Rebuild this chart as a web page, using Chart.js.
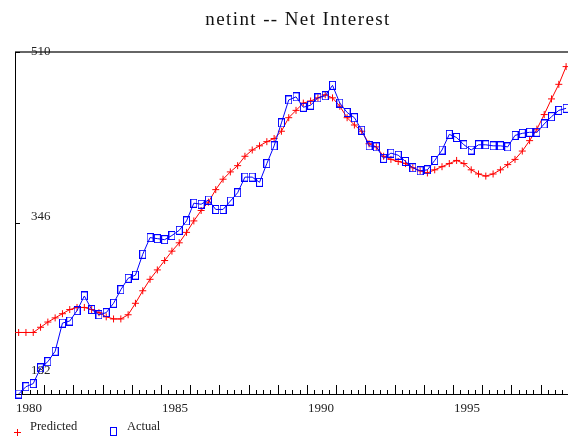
<!DOCTYPE html>
<html>
<head>
<meta charset="utf-8">
<script src="https://cdn.jsdelivr.net/npm/chart.js@4"></script>
<style>
  html, body { margin: 0; padding: 0; background: #fff; }
</style>
</head>
<body>
<canvas id="chart" width="568" height="436"></canvas>
<script>
// quarterly data, 1980Q1 .. 1998Q4
const startYear = 1980;
const predicted = [
  241, 241, 241, 246, 251, 255, 259, 263, 265, 265,
  263, 260, 256, 254, 254, 258, 269, 281, 292, 301,
  310, 319, 327, 337, 348, 358, 366, 378, 388, 395,
  401, 410, 416, 420, 424, 427, 434, 447, 454, 461,
  463, 466, 469, 466, 458, 447, 440, 434, 422, 419,
  410, 407, 405, 403, 399, 396, 394, 397, 400, 403,
  406, 403, 397, 393, 391, 393, 397, 402, 407, 415,
  425, 436, 450, 465, 479, 496
];
const actual = [
  182, 189, 192, 207, 213, 223, 250, 252, 262, 276,
  263, 258, 260, 269, 282, 293, 296, 316, 332, 331,
  330, 334, 339, 348, 365, 364, 368, 359, 359, 367,
  375, 390, 390, 385, 403, 420, 442, 464, 467, 457,
  459, 466, 468, 478, 461, 452, 447, 435, 420, 419,
  408, 413, 411, 405, 399, 396, 397, 406, 416, 431,
  428, 421, 416, 421, 421, 420, 420, 419, 430, 432,
  433, 433, 441, 448, 454, 456
];
const yTicks = [182, 346, 510];
const yearLabels = [1980, 1985, 1990, 1995];

// "1980Q1" style labels -> mid-quarter position on the time axis
const quarters = [];
for (let i = 0; i < actual.length; i++) {
  quarters.push((startYear + Math.floor(i / 4)) + 'Q' + (i % 4 + 1));
}
function quarterPos(label) {
  const yr = parseInt(label.slice(0, 4));
  const q = parseInt(label.slice(5));
  return yr + (q - 0.5) / 4;
}
const toPoints = vals => vals.map((v, i) => ({ x: quarterPos(quarters[i]), y: v }));

const serif = '"Liberation Serif", "DejaVu Serif", serif';

function boxMarker(color) {
  const c = document.createElement('canvas');
  c.width = 7;
  c.height = 9;
  const g = c.getContext('2d');
  g.strokeStyle = color;
  g.lineWidth = 1;
  g.strokeRect(0.5, 0.5, 6, 8);
  return c;
}
const blueBox = boxMarker('#0000ff');

// axes, ticks and labels drawn the old-fashioned way
const frame = {
  id: 'frame',
  beforeDatasetsDraw(chart) {
    const { ctx, chartArea: a, scales: { x, y } } = chart;
    ctx.save();
    ctx.strokeStyle = '#000';
    ctx.lineWidth = 1;
    ctx.beginPath();
    ctx.moveTo(a.left + 0.5, a.top);
    ctx.lineTo(a.left + 0.5, a.bottom + 0.5);
    ctx.lineTo(a.right, a.bottom + 0.5);
    ctx.stroke();

    ctx.strokeStyle = '#333';
    ctx.lineWidth = 1.5;
    ctx.beginPath();
    ctx.moveTo(a.left, a.top);
    ctx.lineTo(a.right, a.top);
    ctx.stroke();

    // quarter ticks, taller on whole years
    ctx.strokeStyle = '#000';
    ctx.lineWidth = 1;
    ctx.beginPath();
    for (let q = 1; ; q++) {
      const t = startYear + q / 4;
      if (t > x.max) break;
      const px = Math.round(x.getPixelForValue(t)) + 0.5;
      const len = q % 4 === 0 ? 9 : 4;
      ctx.moveTo(px, a.bottom + 0.5);
      ctx.lineTo(px, a.bottom - len);
    }
    yTicks.forEach(v => {
      const py = Math.round(y.getPixelForValue(v)) + 0.5;
      ctx.moveTo(a.left, py);
      ctx.lineTo(a.left + 5, py);
    });
    ctx.stroke();

    ctx.fillStyle = '#222';
    ctx.font = '13px ' + serif;
    ctx.textBaseline = 'middle';
    ctx.textAlign = 'left';
    yearLabels.forEach(yr => {
      ctx.fillText(String(yr), x.getPixelForValue(yr) + 1, 409);
    });
    const shift = [-23, -6, 0];
    yTicks.forEach((v, i) => {
      ctx.fillText(String(v), a.left + 16, y.getPixelForValue(v) + shift[i]);
    });
    ctx.restore();
  },
  afterDraw(chart) {
    const { ctx } = chart;
    ctx.save();
    ctx.fillStyle = '#111';
    ctx.textAlign = 'center';
    ctx.textBaseline = 'middle';
    ctx.font = '19px ' + serif;
    ctx.letterSpacing = '1.4px';
    ctx.fillText('netint -- Net Interest', 298, 20);
    ctx.letterSpacing = '0px';

    // legend
    ctx.textAlign = 'left';
    ctx.font = '12.5px ' + serif;
    ctx.fillStyle = '#222';
    ctx.fillText('Predicted', 30, 427);
    ctx.fillText('Actual', 127, 427);
    ctx.strokeStyle = '#ff0000';
    ctx.lineWidth = 1;
    ctx.beginPath();
    ctx.moveTo(14, 432.5); ctx.lineTo(21, 432.5);
    ctx.moveTo(17.5, 429); ctx.lineTo(17.5, 436);
    ctx.stroke();
    ctx.drawImage(blueBox, 110, 427);
    ctx.restore();
  }
};

new Chart(document.getElementById('chart'), {
  type: 'line',
  data: {
    datasets: [
      {
        label: 'Predicted',
        data: toPoints(predicted),
        borderColor: '#ff0000',
        backgroundColor: '#ff0000',
        borderWidth: 1,
        pointStyle: 'cross',
        pointRadius: 3.5,
        pointBorderWidth: 1,
        tension: 0,
        clip: false,
        order: 1
      },
      {
        label: 'Actual',
        data: toPoints(actual),
        borderColor: '#0000ff',
        backgroundColor: '#0000ff',
        borderWidth: 1,
        pointStyle: blueBox,
        pointRadius: 4,
        tension: 0,
        clip: false,
        order: 0
      }
    ]
  },
  options: {
    responsive: false,
    animation: false,
    layout: { autoPadding: false, padding: { left: 15, top: 52, right: 0, bottom: 42 } },
    scales: {
      x: { type: 'linear', min: 1980, max: 1998.94, display: false },
      y: { min: 182, max: 510, display: false }
    },
    plugins: {
      legend: { display: false },
      title: { display: false },
      tooltip: { enabled: false }
    }
  },
  plugins: [frame]
});
</script>
</body>
</html>
